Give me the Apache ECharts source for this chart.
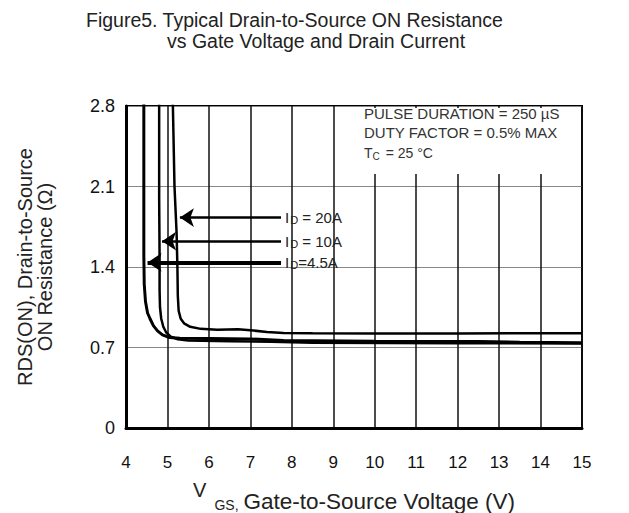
<!DOCTYPE html>
<html>
<head>
<meta charset="utf-8">
<script src="https://cdn.jsdelivr.net/npm/echarts@6/dist/echarts.min.js"></script>
<style>
html,body{margin:0;padding:0;background:#fff;}
#chart{width:629px;height:513px;}
</style>
</head>
<body>
<div id="chart"></div>
<script>
// ---- data (V_GS in volts, R_DS(on) in ohms) ----
var xTicks = [4, 5, 6, 7, 8, 9, 10, 11, 12, 13, 14, 15];
var yTicks = [0, 0.7, 1.4, 2.1, 2.8];

var id20A = [[5.12,3.0],[5.17,2.1],[5.22,1.7],[5.24,1.4],[5.25,1.15],[5.27,1.02],[5.32,0.95],[5.40,0.91],[5.55,0.88],[5.80,0.862],[6.20,0.855],[6.70,0.858],[7.00,0.85],[7.40,0.835],[7.80,0.826],[8.50,0.823],[10,0.822],[12,0.822],[15,0.825]];
var id10A = [[4.80,3.0],[4.80,2.0],[4.81,1.5],[4.81,1.2],[4.82,1.05],[4.85,0.95],[4.90,0.88],[4.97,0.83],[5.08,0.795],[5.25,0.772],[5.50,0.76],[6.50,0.755],[7.50,0.75],[8.50,0.742],[12,0.738],[15,0.735]];
var id4_5A = [[4.43,3.0],[4.43,2.0],[4.43,1.5],[4.44,1.25],[4.47,1.1],[4.52,1.0],[4.58,0.95],[4.66,0.89],[4.76,0.845],[4.88,0.81],[5.05,0.787],[5.30,0.78],[6.00,0.778],[7.00,0.775],[7.80,0.76],[10,0.755],[12.5,0.752],[13.5,0.746],[15,0.742]];

// arrow callouts: [startV, endV(tip), R]
var arrow20A = [7.74, 5.30, 1.83];
var arrow10A = [7.74, 4.87, 1.625];
var arrow4_5A = [7.74, 4.52, 1.44];

var labels = ['{i|I}{d|D}{n| = 20A}', '{i|I}{d|D}{n| = 10A}', '{i|I}{d|D}{n|=4.5A}'];
var notes = ['PULSE DURATION = 250 \u00B5S', 'DUTY FACTOR = 0.5% MAX'];

var chart = echarts.init(document.getElementById('chart'), null, {renderer: 'svg'});

var rich = {
  i: {fontSize: 15, color: '#222', fontFamily: 'Liberation Sans'},
  d: {fontSize: 11, color: '#222', fontFamily: 'Liberation Sans', padding: [5, 0, 0, 1]},
  n: {fontSize: 15, color: '#222', fontFamily: 'Liberation Sans'}
};

function mk(a, lbl, w) {
  return {
    silent: true,
    symbol: ['none', 'arrow'],
    symbolSize: 14,
    lineStyle: {color: '#000', width: w, type: 'solid'},
    itemStyle: {color: '#000'},
    label: {show: true, position: 'start', distance: 4, formatter: lbl, rich: rich},
    emphasis: {disabled: true},
    data: [[{coord: [a[0], a[2]]}, {coord: [a[1], a[2]]}]]
  };
}

function ser(name, data, w, arrow, lbl, aw) {
  return {
    name: name, type: 'line', data: data, showSymbol: false, smooth: false,
    clip: true, silent: true, color: '#000',
    lineStyle: {color: '#000', width: w},
    markLine: mk(arrow, lbl, aw)
  };
}

var option = {
  backgroundColor: '#fff',
  animation: false,
  textStyle: {fontFamily: 'Liberation Sans'},
  title: [
    {text: 'Figure5. Typical Drain-to-Source ON Resistance', left: 81, top: 5,
     textStyle: {fontSize: 19.5, fontWeight: 'normal', color: '#222', fontFamily: 'Liberation Sans'}},
    {text: 'vs Gate Voltage and Drain Current', left: 162, top: 26,
     textStyle: {fontSize: 19.5, fontWeight: 'normal', color: '#222', fontFamily: 'Liberation Sans'}}
  ],
  grid: {left: 126, right: 47, top: 106, bottom: 85, show: true, borderColor: '#000', borderWidth: 2,
         backgroundColor: 'transparent', outerBoundsMode: 'none', containLabel: false},
  xAxis: {
    type: 'value', min: 4, max: 15, interval: 1,
    name: '{v|V}{gs|GS,}{t|Gate-to-Source Voltage (V)}',
    nameLocation: 'middle', nameGap: 52,
    nameTextStyle: {
      rich: {
        v: {fontSize: 20, color: '#222', padding: [0, 8, 22, 0]},
        gs: {fontSize: 14, color: '#222', padding: [8, 5, 0, 0]},
        t: {fontSize: 22.5, color: '#222'}
      }
    },
    axisLine: {show: true, lineStyle: {color: '#000', width: 3}},
    axisTick: {show: false},
    axisLabel: {fontSize: 17, color: '#111', margin: 26, fontFamily: 'Liberation Sans'},
    splitLine: {show: true, lineStyle: {color: '#111', width: 1.5}}
  },
  yAxis: {
    type: 'value', min: 0, max: 2.8, interval: 0.7,
    name: 'RDS(ON), Drain-to-Source\nON Resistance (\u03A9)',
    nameLocation: 'middle', nameGap: 71,
    nameTextStyle: {fontSize: 20, lineHeight: 20, color: '#222', fontFamily: 'Liberation Sans'},
    axisLine: {show: true, lineStyle: {color: '#000', width: 3}},
    axisTick: {show: false},
    axisLabel: {fontSize: 18, color: '#111', margin: 11, fontFamily: 'Liberation Sans',
      formatter: function (v) { return v === 0 ? '0' : v.toFixed(1); }},
    splitLine: {show: true, lineStyle: {color: '#888', width: 1}}
  },
  graphic: [
    {type: 'rect', z: 10, silent: true, shape: {x: 345, y: 108, width: 235, height: 66}, style: {fill: '#fff'}},
    {type: 'text', z: 20, silent: true, left: 364, top: 106, style: {text: notes[0], fontSize: 15, fill: '#333', fontFamily: 'Liberation Sans'}},
    {type: 'text', z: 20, silent: true, left: 364, top: 125, style: {text: notes[1], fontSize: 15, fill: '#333', fontFamily: 'Liberation Sans'}},
    {type: 'text', z: 20, silent: true, left: 364, top: 146, style: {
      text: '{a|T}{b|C}{a| = 25 \u00B0C}',
      rich: {a: {fontSize: 14, fill: '#333', fontFamily: 'Liberation Sans'},
             b: {fontSize: 10, fill: '#333', fontFamily: 'Liberation Sans', padding: [6, 2, 0, 0]}}}}
  ],
  series: [
    ser('ID = 20A', id20A, 2.5, arrow20A, labels[0], 2.5),
    ser('ID = 10A', id10A, 2.5, arrow10A, labels[1], 2.5),
    ser('ID = 4.5A', id4_5A, 3, arrow4_5A, labels[2], 4)
  ]
};
chart.setOption(option);
</script>
</body>
</html>
